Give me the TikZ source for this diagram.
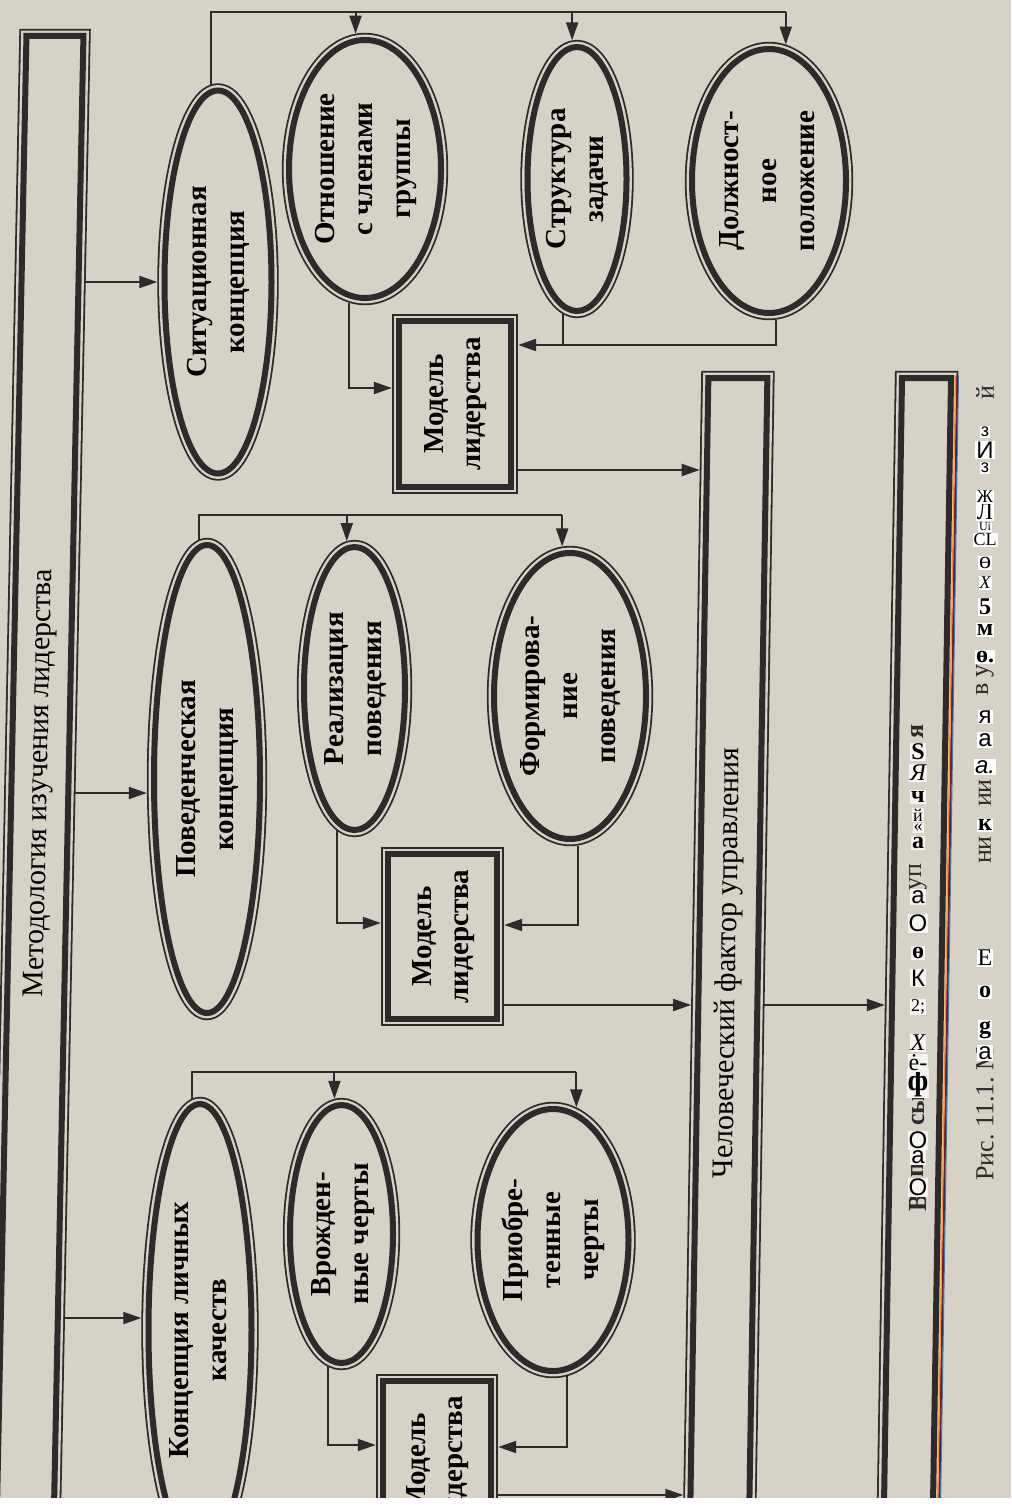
\documentclass[tikz,border=0pt]{standalone}
\usepackage{fontspec}
\usepackage{graphicx}
\setmainfont{Liberation Serif}
\newfontfamily\ocrsans{Liberation Sans}
\usetikzlibrary{shapes.geometric,arrows.meta,calc}
\definecolor{paper}{RGB}{214,210,198}
\definecolor{ink}{RGB}{46,42,42}
\pgfdeclarelayer{bg}
\pgfsetlayers{bg,main}
\newsavebox\lblbox
% vertical (bottom-to-top) label of zero size, centred on the node centre
\newcommand{\vlabel}[1]{%
  \sbox\lblbox{\rotatebox{90}{\begin{tabular}{@{}c@{}}#1\end{tabular}}}%
  \raisebox{\dimexpr(\dp\lblbox-\ht\lblbox)/2\relax}[0pt][0pt]{\makebox[0pt]{\usebox\lblbox}}}
\newcommand{\smallocr}{\fontsize{9}{10}\selectfont}
\newcommand{\tinyocr}{\fontsize{6}{7}\selectfont}
\begin{document}
\begin{tikzpicture}[x=0.5pt,y=-0.5pt,
  dbl/.style={preaction={draw=ink,line width=7.2pt},
              preaction={draw=paper,line width=5.4pt},
              draw=ink, fill=paper, line width=3pt, outer sep=3.6pt, inner sep=0pt},
  oval/.style={dbl, ellipse, font=\fontsize{14.5}{19}\selectfont\bfseries},
  mbox/.style={dbl, rectangle, font=\fontsize{14.5}{18.5}\selectfont\bfseries},
  tall/.style={dbl, rectangle, transform shape, font=\fontsize{15}{18}\selectfont},
  conn/.style={draw=ink, line width=1pt},
  arr/.style={conn, -{Triangle[length=9pt,width=6pt]}},
  ocrup/.style={fill=white, inner sep=0.5pt, text=black, font=\fontsize{12}{13}\selectfont},
  ocrrot/.style={rotate=90, inner sep=0pt, text=ink, font=\fontsize{13}{14}\selectfont},
]
\useasboundingbox (0,0) rectangle (1011,1508);
\begin{pgfonlayer}{bg}
  \fill[paper] (0,0) rectangle (1011,1508);
\end{pgfonlayer}
\clip (0,0) rectangle (1011,1508);

% long vertical boxes
\node[tall, xslant=0.02, minimum width=28.5pt, minimum height=747pt] (meth) at (40,783)
  {\vlabel{Методология изучения лидерства}};
\node[tall, xslant=0.016, minimum width=29.5pt, minimum height=585pt] (human) at (728.5,963)
  {\vlabel{Человеческий фактор управления}};
\node[tall, xslant=0.016, minimum width=24.5pt, minimum height=595pt] (quest) at (917,973) {};

% situational branch
\node[oval, minimum width=53.5pt, minimum height=191.5pt] (sit) at (218,282) {\vlabel{Ситуационная\\концепция}};
\node[oval, minimum width=76pt, minimum height=129pt] (otn) at (365,169) {\vlabel{Отношение\\с членами\\группы}};
\node[oval, minimum width=49.5pt, minimum height=132pt] (str) at (577,179) {\vlabel{Структура\\задачи}};
\node[oval, minimum width=77pt, minimum height=132pt] (dol) at (769,181) {\vlabel{Должност-\\ное\\положение}};
\node[mbox, minimum width=56pt, minimum height=83pt] (mod1) at (455,404) {\vlabel{Модель\\лидерства}};

% behavioural branch
\node[oval, minimum width=53pt, minimum height=234pt] (pov) at (207,779) {\vlabel{Поведенческая\\концепция}};
\node[oval, minimum width=50.5pt, minimum height=141.5pt] (real) at (354.5,688.5) {\vlabel{Реализация\\поведения}};
\node[oval, minimum width=76pt, minimum height=143pt] (form) at (570,696) {\vlabel{Формирова-\\ние\\поведения}};
\node[mbox, minimum width=54.5pt, minimum height=82.5pt] (mod2) at (442.5,936.5) {\vlabel{Модель\\лидерства}};

% personal traits branch
\node[oval, minimum width=51.5pt, minimum height=226pt] (con) at (200,1330) {\vlabel{Концепция личных\\качеств}};
\node[oval, minimum width=51.5pt, minimum height=129pt] (vr) at (341.5,1234) {\vlabel{Врожден-\\ные черты}};
\node[oval, minimum width=75.5pt, minimum height=131pt] (pri) at (553,1240) {\vlabel{Приобре-\\тенные\\черты}};
\node[mbox, minimum width=54pt, minimum height=82pt] (mod3) at (437,1463) {\vlabel{Модель\\лидерства}};

\coordinate (bus1) at (0,12);
\coordinate (bus2) at (0,515);
\coordinate (bus3) at (0,1072);

\begin{pgfonlayer}{bg}
  % from the methodology box
  \draw[arr] ($(meth.east |- sit.west)+(-16,0)$) -- (sit.west);
  \draw[arr] ($(meth.east |- pov.west)+(-16,14)$) -- ($(pov.west)+(0,14)$);
  \draw[arr] ($(meth.east |- con.west)+(-16,-12)$) -- ($(con.west)+(0,-12)$);

  % situational branch
  \draw[conn] (sit.92) |- (dol.83 |- bus1);
  \draw[arr] (otn.94 |- bus1) -- (otn.94);
  \draw[arr] (str.92 |- bus1) -- (str.92);
  \draw[arr] (dol.83 |- bus1) -- (dol.83);
  \coordinate (j1) at ($(mod1.east)+(0,-59)$);
  \draw[arr] (otn.263) |- ($(mod1.west)+(0,-16)$);
  \draw[arr] (dol.273) |- (j1);
  \draw[conn] (str.264) -- (str.264 |- j1);
  \coordinate (k1) at ($(mod1.east)+(0,66)$);
  \draw[arr] (k1) -- ($(human.west |- k1)+(7.9,0)$);

  % behavioural branch
  \draw[conn] (pov.92) |- (form.93 |- bus2);
  \draw[arr] (real.93 |- bus2) -- (real.93);
  \draw[arr] (form.93 |- bus2) -- (form.93);
  \draw[arr] (real.263) |- ($(mod2.west)+(0,-13.5)$);
  \draw[arr] (form.273) |- ($(mod2.east)+(0,-11.5)$);
  \coordinate (k2) at ($(mod2.east)+(0,68.5)$);
  \draw[arr] (k2) -- ($(human.west |- k2)+(-0.7,0)$);

  % personal traits branch
  \draw[conn] (con.92) |- (pri.80 |- bus3);
  \draw[arr] (vr.93 |- bus3) -- (vr.93);
  \draw[arr] (pri.80 |- bus3) -- (pri.80);
  \draw[arr] (vr.264) |- ($(mod3.west)+(0,-18)$);
  \draw[arr] (pri.276) |- ($(mod3.east)+(0,-16)$);
  \coordinate (k3) at ($(mod3.east)+(0,32)$);
  \draw[arr] (k3) -- ($(human.west |- k3)+(-8.5,0)$);

  % human factor to the third box
  \coordinate (hq) at ($(quest.west)+(0,32)$);
  \draw[arr] ($(human.east |- hq)+(-12,0)$) -- ($(quest.west |- hq)+(-0.5,0)$);
\end{pgfonlayer}

% colour fringe along the right edge of the third box
\draw[orange!90!yellow, line width=0.5pt] (955.5,376) -- (937.5,1508);
\draw[red!75!black, line width=0.5pt] (957,376) -- (939,1508);
\draw[cyan!70!blue, line width=0.5pt] (958.5,376) -- (940.5,1508);

% recognised glyphs inside the third box
\foreach \yy/\txt [count=\i] in {1203/{\bfseries В}, 1170/{\bfseries п}, 1110/{\bfseries сы},
    877/{уп}, 731/{\bfseries я}}
  \node[ocrrot] (qr\i) at (918,\yy) {\txt};
\foreach \yy/\txt [count=\i] in {1187/{\ocrsans О}, 1157/{\ocrsans а}, 1140/{\ocrsans О},
    1083/{\fontsize{15}{16}\selectfont\bfseries ф}, 1063/{ė-}, 1043/{\itshape X},
    1007/{\smallocr 2;}, 978/{\ocrsans К}, 953/{\bfseries ө}, 923/{\ocrsans О},
    897/{\ocrsans а}, 843/{\bfseries а}, 828/{\smallocr «}, 815/{\smallocr й},
    797/{\bfseries ч}, 773/{\itshape Я}, 752/{\bfseries S}}
  \node[ocrup, fill=white!75!paper] (qu\i) at (918,\yy) {\txt};

% caption column
\foreach \yy/\txt [count=\i] in {1114/{Рис.\ 11.1.\ М}, 850/{ни}, 793/{ии}, 680/{в\ у}, 393/{й}}
  \node[ocrrot] (cr\i) at (985,\yy) {\txt};
\foreach \yy/\txt [count=\i] in {1053/{\ocrsans а}, 1030/{\bfseries g}, 992/{\bfseries о},
    958/{Е}, 825/{\bfseries к}, 767/{\ocrsans\itshape а.}, 740/{\ocrsans а},
    717/{\ocrsans я}, 657/{\bfseries ө.}, 630/{\bfseries м}, 607/{\bfseries 5},
    583/{\smallocr\itshape X}, 563/{ө}, 540/{\smallocr CL}, 527/{\tinyocr Ui},
    512/{Л}, 497/{\smallocr Ж}, 468/{\ocrsans\smallocr з}, 450/{\ocrsans И},
    432/{\ocrsans\smallocr з}}
  \node[ocrup] (cu\i) at (985,\yy) {\txt};

% blank strip along the lower edge
\fill[white] (0,1498) rectangle (1011,1508);
\end{tikzpicture}
\end{document}
